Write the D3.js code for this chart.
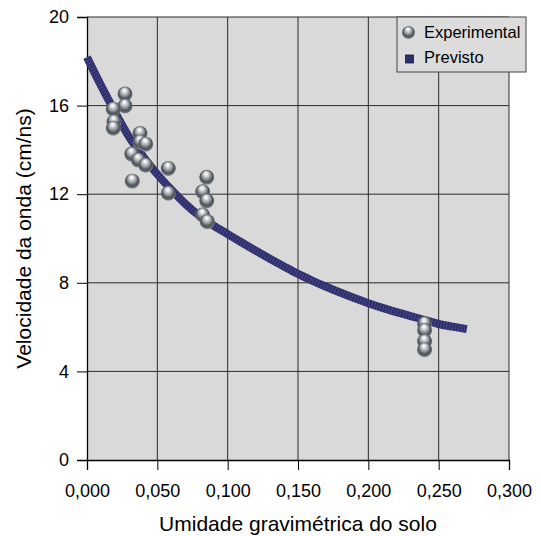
<!DOCTYPE html>
<html>
<head>
<meta charset="utf-8">
<script src="https://cdn.jsdelivr.net/npm/d3@7"></script>
<style>
  html, body { margin: 0; padding: 0; background: #fff; }
  svg text { font-family: "Liberation Sans", Arial, sans-serif; fill: #000; }
</style>
</head>
<body>
<div id="chart"></div>
<script>
// ---- data ----
// measured points (gravimetric moisture, wave velocity cm/ns)
const expX = [0.027, 0.027, 0.0187, 0.0192, 0.0187, 0.0377, 0.0377, 0.0417, 0.0318, 0.0365,
              0.0417, 0.0322, 0.0578, 0.0578, 0.0851, 0.0822, 0.0851, 0.0822, 0.0855,
              0.240, 0.240, 0.240, 0.240];
const expY = [16.52, 15.98, 15.84, 15.27, 14.98, 14.74, 14.36, 14.26, 13.81, 13.54,
              13.31, 12.59, 13.16, 12.04, 12.76, 12.11, 11.70, 11.06, 10.76,
              6.15, 5.85, 5.35, 4.98];

// predicted curve
const predX = [0.00, 0.01, 0.02, 0.03, 0.04, 0.05, 0.06, 0.07, 0.08, 0.09,
               0.10, 0.11, 0.12, 0.13, 0.14, 0.15, 0.16, 0.17, 0.18, 0.19,
               0.20, 0.21, 0.22, 0.23, 0.24, 0.25, 0.26, 0.27];
const predY = [18.18, 16.90, 15.70, 14.58, 13.70, 12.90, 12.20, 11.56, 11.02, 10.58,
               10.20, 9.82, 9.45, 9.09, 8.74, 8.40, 8.10, 7.82, 7.56, 7.31,
               7.08, 6.87, 6.68, 6.50, 6.32, 6.14, 6.02, 5.91];

const xTicks = [0, 0.05, 0.10, 0.15, 0.20, 0.25, 0.30];
const yTicks = [0, 4, 8, 12, 16, 20];
const seriesNames = ["Experimental", "Previsto"];

// ---- layout ----
const width = 541, height = 536;
const margin = {left: 87, right: 32, top: 17, bottom: 76};

const svg = d3.select("#chart").append("svg")
  .attr("width", width)
  .attr("height", height);

const x = d3.scaleLinear().domain([0, 0.3]).range([margin.left, width - margin.right]);
const y = d3.scaleLinear().domain([0, 20]).range([height - margin.bottom, margin.top]);

const defs = svg.append("defs");
const grad = defs.append("radialGradient")
  .attr("id", "ball")
  .attr("cx", "50%").attr("cy", "45%").attr("r", "55%")
  .attr("fx", "45%").attr("fy", "22%");
[["0%", "#ffffff"], ["18%", "#e9ebed"], ["45%", "#a3a8ad"], ["75%", "#4b5056"], ["92%", "#6e7378"], ["100%", "#9a9ea2"]]
  .forEach(([o, c]) => grad.append("stop").attr("offset", o).attr("stop-color", c));

// plot background
svg.append("rect")
  .attr("x", x(0)).attr("y", y(20))
  .attr("width", x(0.3) - x(0)).attr("height", y(0) - y(20))
  .attr("fill", "#d9d9d9");

// grid
svg.append("g").selectAll("line")
  .data(xTicks.slice(1))
  .join("line")
  .attr("x1", d => x(d)).attr("x2", d => x(d))
  .attr("y1", y(0)).attr("y2", y(20))
  .attr("stroke", "#2a2a2a").attr("stroke-width", 1);

svg.append("g").selectAll("line")
  .data(yTicks.slice(1))
  .join("line")
  .attr("x1", x(0)).attr("x2", x(0.3))
  .attr("y1", d => y(d)).attr("y2", d => y(d))
  .attr("stroke", "#2a2a2a").attr("stroke-width", 1);

// axes
const fmt = d => d3.format(".3f")(d).replace(".", ",");

const xAxis = svg.append("g")
  .attr("transform", `translate(0,${y(0)})`)
  .call(d3.axisBottom(x).tickValues(xTicks).tickFormat(fmt).tickSize(10).tickPadding(14));
const yAxis = svg.append("g")
  .attr("transform", `translate(${x(0)},0)`)
  .call(d3.axisLeft(y).tickValues(yTicks).tickSize(10).tickPadding(8));

[xAxis, yAxis].forEach(a => {
  a.select(".domain").attr("stroke", "#000").attr("stroke-width", 1.3);
  a.selectAll(".tick line").attr("stroke", "#000");
  a.selectAll("text").style("font-size", "18px").attr("fill", "#000");
});

// axis titles
svg.append("text")
  .attr("x", (x(0) + x(0.3)) / 2)
  .attr("y", 531)
  .attr("text-anchor", "middle")
  .style("font-size", "21px")
  .text("Umidade gravimétrica do solo");

svg.append("text")
  .attr("transform", `translate(31,${(y(0) + y(20)) / 2}) rotate(-90)`)
  .attr("text-anchor", "middle")
  .style("font-size", "21px")
  .text("Velocidade da onda (cm/ns)");

// predicted curve (thick band of little squares)
const pred = predX.map((d, i) => [d, predY[i]]);
const line = d3.line().x(d => x(d[0])).y(d => y(d[1])).curve(d3.curveMonotoneX);

svg.append("path")
  .datum(pred)
  .attr("d", line)
  .attr("fill", "none")
  .attr("stroke", "#2e2d6b")
  .attr("stroke-width", 8);

svg.append("path")
  .datum(pred)
  .attr("d", line)
  .attr("fill", "none")
  .attr("stroke", "#4a4a86")
  .attr("stroke-width", 7)
  .attr("stroke-dasharray", "1 2");

// experimental spheres
svg.append("g").selectAll("circle")
  .data(expX.map((d, i) => [d, expY[i]]))
  .join("circle")
  .attr("cx", d => x(d[0]))
  .attr("cy", d => y(d[1]))
  .attr("r", 7.5)
  .attr("fill", "url(#ball)");

// legend
const lg = svg.append("g").attr("transform", "translate(397,17)");
lg.append("rect")
  .attr("width", 129).attr("height", 55)
  .attr("fill", "#dcdcdc")
  .attr("stroke", "#444").attr("stroke-width", 1);

lg.append("circle")
  .attr("cx", 11.5).attr("cy", 15.5).attr("r", 6.5)
  .attr("fill", "url(#ball)");
lg.append("rect")
  .attr("x", 8.5).attr("y", 38).attr("width", 8).attr("height", 8)
  .attr("fill", "#2e2d6b").attr("stroke", "#1a1a40").attr("stroke-width", 0.8);

lg.selectAll("text.leg")
  .data(seriesNames)
  .join("text")
  .attr("class", "leg")
  .attr("x", 27)
  .attr("y", (d, i) => 21 + i * 25)
  .style("font-size", "16.5px")
  .text(d => d);
</script>
</body>
</html>
